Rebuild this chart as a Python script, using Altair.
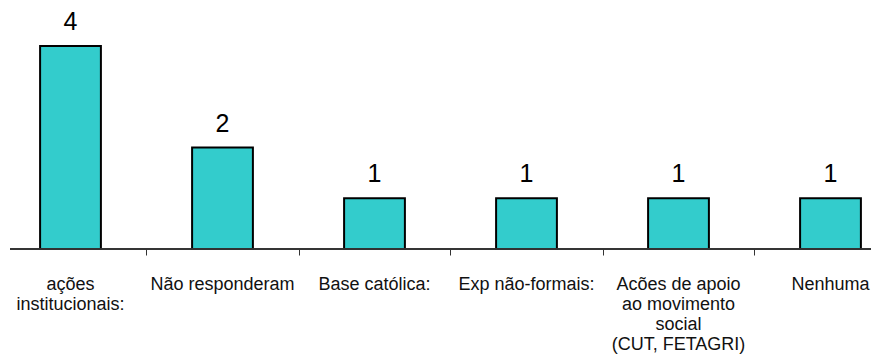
import altair as alt
import pandas as pd

# Categories (line breaks split long labels) and counts
categories = [
    "ações\ninstitucionais:",
    "Não responderam",
    "Base católica:",
    "Exp não-formais:",
    "Acões de apoio\nao movimento\nsocial\n(CUT, FETAGRI)",
    "Nenhuma",
]
counts = [4, 2, 1, 1, 1, 1]

df = pd.DataFrame({"cat": categories, "n": counts})

W = 871
H = 203
STEP = 152
FONT = "Liberation Sans"

x_enc = alt.X(
    "cat:N",
    sort=categories,
    scale=alt.Scale(range=[-5.5, 906.5], paddingInner=0.6, paddingOuter=0.3),
    axis=alt.Axis(
        title=None,
        labels=False,
        domain=False,
        ticks=True,
        tickOffset=STEP / 2,
        tickSize=6,
        tickColor="#333333",
        tickWidth=1,
        grid=False,
    ),
)
y_scale = alt.Scale(domain=[0, 4], range=[H, 0])

base = alt.Chart(df)

bars = base.mark_bar(
    color="#33CCCC", stroke="#000000", strokeWidth=2
).encode(
    x=x_enc,
    y=alt.Y("n:Q", scale=y_scale, axis=None),
)

values = base.mark_text(
    font=FONT, fontSize=25, color="#000000", baseline="alphabetic", dy=-16
).encode(
    x=alt.X("cat:N", sort=categories),
    y=alt.Y("n:Q", scale=y_scale),
    text="n:Q",
)

labels = base.mark_text(
    font=FONT,
    fontSize=18,
    color="#111111",
    baseline="middle",
    lineBreak="\n",
    lineHeight=20,
    align="center",
).encode(
    x=alt.X("cat:N", sort=categories),
    y=alt.value(H + 36),
    text="cat:N",
)

baseline = base.mark_rule(color="#333333", strokeWidth=1).encode(
    x=alt.value(10), x2=alt.value(W), y=alt.value(H)
)

chart = (
    alt.layer(bars, baseline, values, labels)
    .properties(
        width=W,
        height=H,
        autosize=alt.AutoSizeParams(type="none"),
        padding={"top": 46, "left": 0, "right": 0, "bottom": 109},
    )
    .configure_view(stroke=None)
)

chart.save("out.html", embed_options={"renderer": "svg", "actions": False})
